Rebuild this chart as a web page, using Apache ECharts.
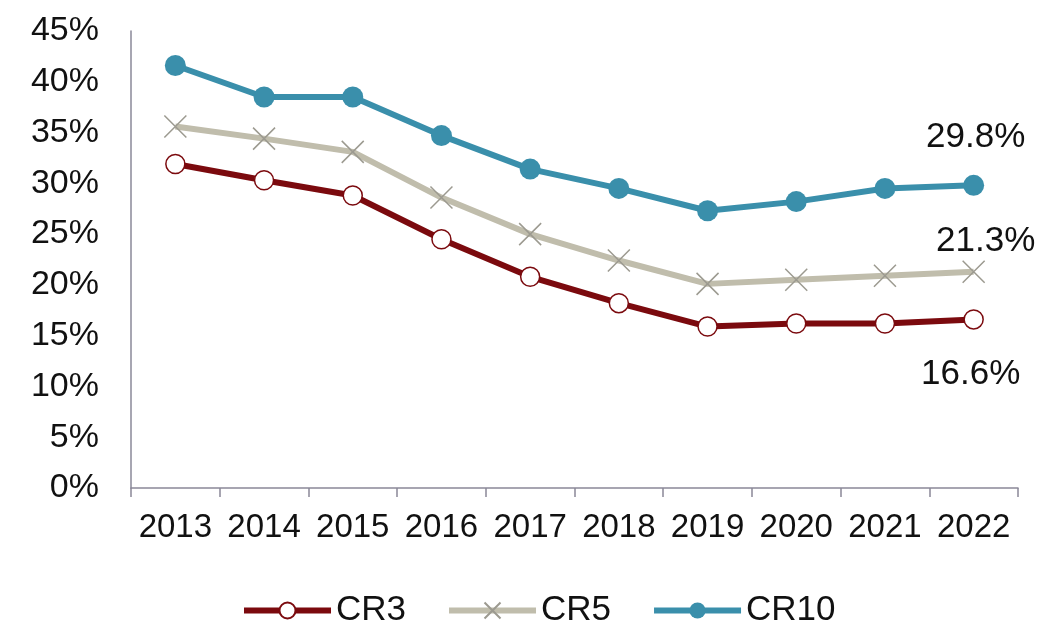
<!DOCTYPE html>
<html><head><meta charset="utf-8">
<script src="https://cdn.jsdelivr.net/npm/echarts@6/dist/echarts.min.js"></script>
<style>html,body{margin:0;padding:0;background:#fff}#c{width:1046px;height:636px}</style>
</head><body><div id="c"></div>
<script>
const categories = ['2013','2014','2015','2016','2017','2018','2019','2020','2021','2022'];
const cr3 = [31.9, 30.3, 28.8, 24.5, 20.8, 18.2, 15.9, 16.2, 16.2, 16.6];
const cr5 = [35.6, 34.4, 33.1, 28.6, 25.0, 22.4, 20.1, 20.5, 20.9, 21.3];
const cr10 = [41.6, 38.5, 38.5, 34.7, 31.4, 29.5, 27.3, 28.2, 29.5, 29.8];
const yTicks = [0,5,10,15,20,25,30,35,40,45];

const font = 'Liberation Sans, Arial, sans-serif';
function withLastLabel(arr, label){
  return arr.map((v,i)=> i===arr.length-1 ? {value:v, label:Object.assign({show:true, formatter: v.toFixed(1)+'%', fontSize:35, color:'#111', fontFamily:font}, label)} : v);
}
const chart = echarts.init(document.getElementById('c'));
chart.setOption({
  animation:false,
  backgroundColor:'#fff',
  grid:{left:131, right:28, top:31, bottom:148, containLabel:false},
  legend:{
    top:588, left:236, itemWidth:87, itemHeight:20, itemGap:40,
    lineStyle:{width:6},
    textStyle:{fontSize:35, color:'#111', fontFamily:font},
    data:['CR3','CR5','CR10']
  },
  xAxis:{
    type:'category', data:categories, boundaryGap:true,
    axisLine:{lineStyle:{color:'#8a8898', width:1.5}},
    axisTick:{show:true, length:9, interval:0, lineStyle:{color:'#8a8898', width:1.5}},
    axisLabel:{fontSize:33, color:'#111', margin:23, interval:0, hideOverlap:false, fontFamily:font}
  },
  yAxis:{
    type:'value', min:0, max:45, interval:5,
    axisLine:{show:true, lineStyle:{color:'#8a8898', width:1.5}},
    axisTick:{show:false},
    splitLine:{show:false},
    axisLabel:{fontSize:34, color:'#111', margin:32, fontFamily:font, formatter: v => v+'%'}
  },
  series:[
    {name:'CR3', type:'line', data:withLastLabel(cr3,{position:'bottom', distance:27, offset:[-3,0]}),
     symbol:'circle', symbolSize:19, lineStyle:{color:'#7b0a0e', width:6},
     itemStyle:{color:'#fff', borderColor:'#7b0a0e', borderWidth:1.5}, z:3},
    {name:'CR5', type:'line', data:withLastLabel(cr5,{position:'top', distance:1, offset:[12,0]}),
     symbol:'path://M0,0L10,10M10,0L0,10', symbolSize:22, lineStyle:{color:'#c0bdac', width:6},
     itemStyle:{color:'rgba(0,0,0,0)', borderColor:'#9c9a90', borderWidth:1.5}, z:2},
    {name:'CR10', type:'line', data:withLastLabel(cr10,{position:'top', distance:20, offset:[2,0]}),
     symbol:'circle', symbolSize:21, lineStyle:{color:'#3a8fab', width:6},
     itemStyle:{color:'#3a8fab'}, z:4}
  ]
});
</script></body></html>
